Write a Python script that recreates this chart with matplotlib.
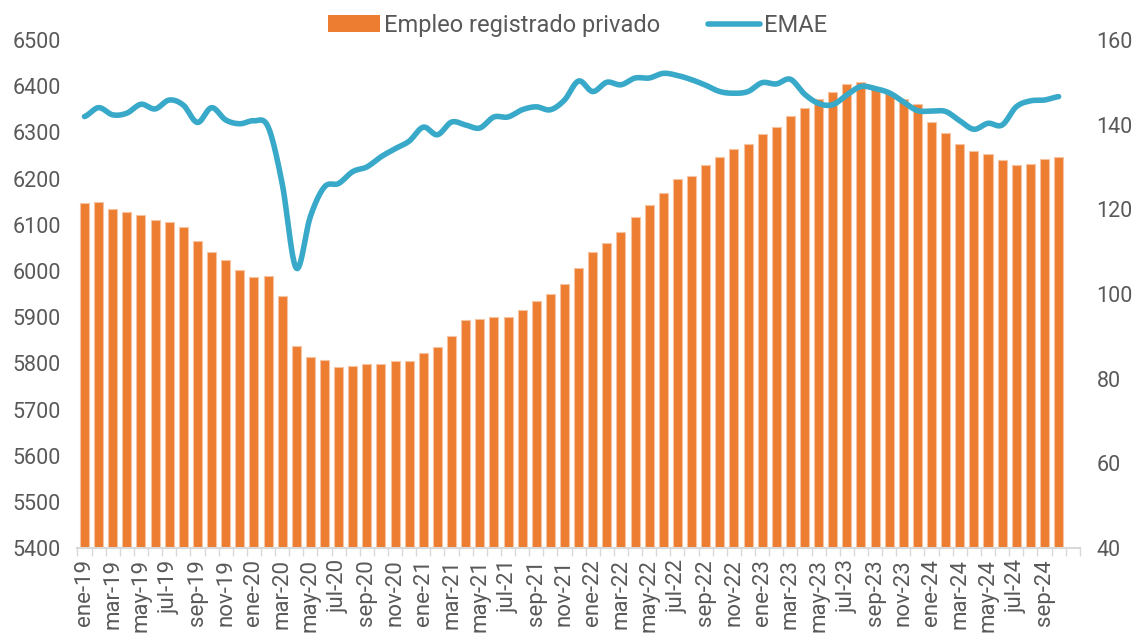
import matplotlib
matplotlib.use("Agg")
from matplotlib import pyplot as plt
from matplotlib.patches import Patch
from matplotlib.lines import Line2D
import numpy as np

plt.rcParams['font.family'] = ['Roboto', 'DejaVu Sans']

# Datos mensuales ene-19 .. oct-24
meses = ['ene', 'feb', 'mar', 'abr', 'may', 'jun', 'jul', 'ago', 'sep', 'oct', 'nov', 'dic']
anios = ['19', '20', '21', '22', '23', '24']
categorias = [f'{m}-{a}' for a in anios for m in meses][:71]  # incluye nov-24 vacío

empleo = [6146, 6150, 6133, 6127, 6120, 6111, 6105, 6094, 6065, 6041,
          6023, 6001, 5987, 5990, 5946, 5838, 5813, 5807, 5793, 5794,
          5798, 5799, 5806, 5805, 5822, 5836, 5860, 5894, 5895, 5900,
          5901, 5915, 5934, 5949, 5972, 6007, 6040, 6060, 6085, 6117,
          6142, 6168, 6200, 6205, 6229, 6246, 6263, 6275, 6296, 6312,
          6335, 6352, 6372, 6387, 6405, 6408, 6394, 6384, 6372, 6361,
          6323, 6299, 6275, 6260, 6252, 6239, 6229, 6231, 6242, 6247]

emae = [141.9, 144.0, 142.3, 142.7, 144.8, 143.7, 145.8, 144.6, 140.5, 144.0,
        141.1, 140.2, 140.9, 139.5, 126.1, 106.1, 118.3, 125.3, 126.1, 128.9,
        130.0, 132.4, 134.3, 136.1, 139.4, 137.6, 140.6, 139.9, 139.2, 141.8,
        141.8, 143.5, 144.2, 143.5, 145.8, 150.3, 147.8, 150.0, 149.4, 151.0,
        151.0, 152.1, 151.6, 150.6, 149.3, 147.8, 147.4, 147.8, 149.9, 149.6,
        150.7, 147.2, 145.0, 144.7, 147.0, 149.0, 148.5, 147.5, 145.4, 143.3,
        143.2, 143.1, 140.9, 138.9, 140.3, 139.9, 144.2, 145.6, 145.8, 146.6]


def suavizar(y, n=12):
    # curva tipo Catmull-Rom que pasa por todos los puntos (línea suavizada)
    y = np.asarray(y, dtype=float)
    p = np.concatenate([[y[0]], y, [y[-1]]])
    xs, ys = [], []
    for i in range(len(y) - 1):
        p0, p1, p2, p3 = p[i], p[i + 1], p[i + 2], p[i + 3]
        t = np.linspace(0, 1, n, endpoint=False)
        ys.append(0.5 * ((2 * p1) + (-p0 + p2) * t + (2 * p0 - 5 * p1 + 4 * p2 - p3) * t ** 2
                         + (-p0 + 3 * p1 - 3 * p2 + p3) * t ** 3))
        xs.append(i + t)
    xs.append([len(y) - 1])
    ys.append([y[-1]])
    return np.concatenate(xs), np.concatenate(ys)


naranja = '#ED7D31'
celeste = '#38A9C8'
gris = '#595959'

fig = plt.figure(figsize=(11.39, 6.33), dpi=100)
ax = fig.add_axes([0.068, 0.134, 0.880, 0.803])

x = np.arange(len(empleo))
ax.bar(x, empleo, width=0.64, color=naranja, edgecolor='#F6C4A0', linewidth=0.8, zorder=2)
ax.set_ylim(5400, 6500)
ax.set_yticks(np.arange(5400, 6501, 100))
ax.set_xlim(-0.5, len(categorias) - 0.5)

ax.set_xticks(np.arange(0, 69, 2))
ax.set_xticklabels([categorias[i] for i in range(0, 69, 2)], rotation=90)
ax.set_xticks(np.arange(-0.5, len(categorias), 1), minor=True)
ax.tick_params(axis='x', which='major', length=0, labelsize=16, labelcolor=gris, pad=8)
ax.tick_params(axis='x', which='minor', length=6, color='#D9D9D9', width=1)
ax.tick_params(axis='y', length=0, labelsize=15.5, labelcolor=gris, pad=12)

for s in ['top', 'left', 'right']:
    ax.spines[s].set_visible(False)
ax.spines['bottom'].set_color('#D9D9D9')
ax.spines['bottom'].set_linewidth(1.5)

ax2 = ax.twinx()
xs, ys = suavizar(emae)
ax2.plot(xs, ys, color=celeste, linewidth=4, solid_capstyle='round', zorder=3)
ax2.set_ylim(40, 160)
ax2.set_yticks(np.arange(40, 161, 20))
ax2.tick_params(axis='y', length=0, labelsize=15.5, labelcolor=gris, pad=12)
for s in ['top', 'left', 'right', 'bottom']:
    ax2.spines[s].set_visible(False)

handles = [Patch(facecolor=naranja, edgecolor='none'),
           Line2D([0], [0], color=celeste, linewidth=4, solid_capstyle='round')]
fig.legend(handles, ['Empleo registrado privado', 'EMAE'], loc='center',
           bbox_to_anchor=(0.507, 0.96), ncol=2, frameon=False, fontsize=17,
           labelcolor=gris, handlelength=2.2, handletextpad=0.2, columnspacing=2.0)

fig.savefig('out.png', dpi=100)
